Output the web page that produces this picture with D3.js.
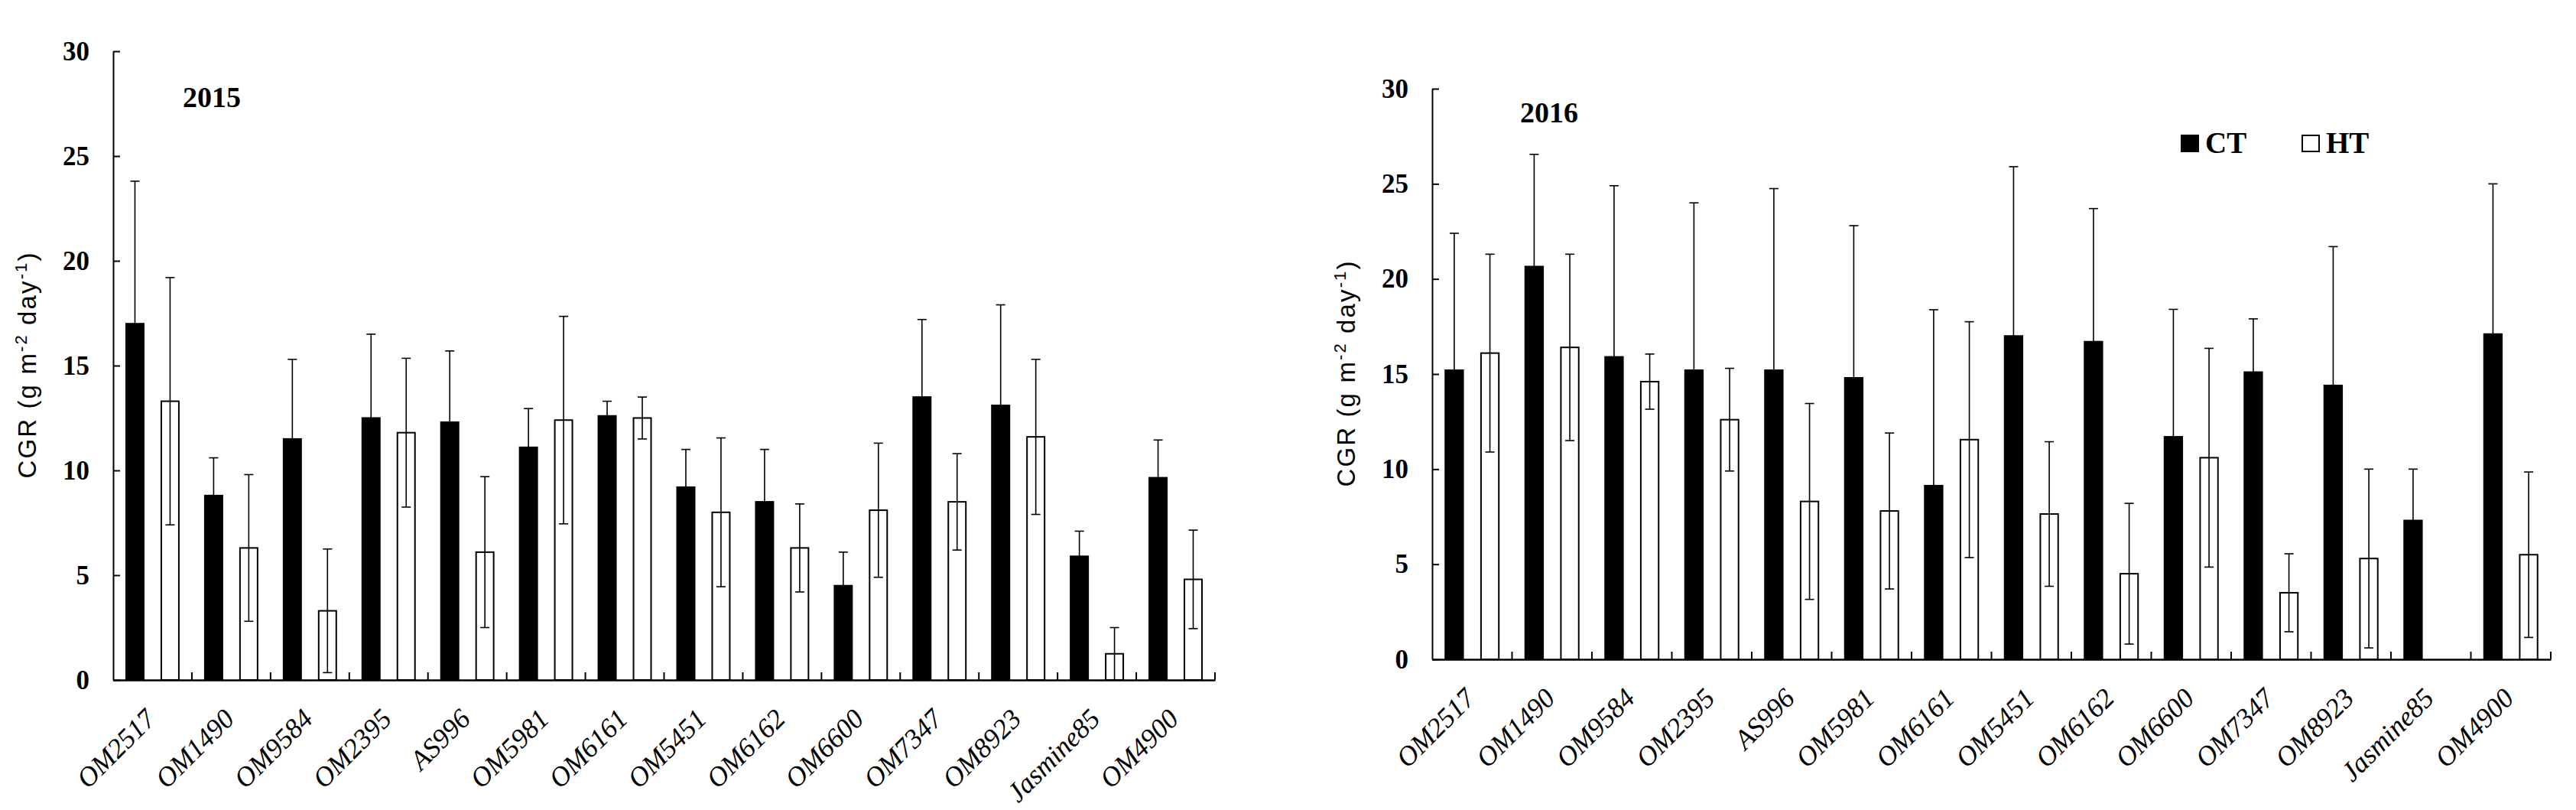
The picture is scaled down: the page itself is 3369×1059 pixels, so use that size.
<!DOCTYPE html>
<html>
<head>
<meta charset="utf-8">
<script src="https://cdn.jsdelivr.net/npm/d3@7"></script>
<style>
  body { margin: 0; background: #fff; }
  svg { display: block; }
</style>
</head>
<body>
<svg id="chart" width="3369" height="1059"></svg>
<script>
// cultivars on the x axis (same order in both years)
const categories = ['OM2517', 'OM1490', 'OM9584', 'OM2395', 'AS996', 'OM5981', 'OM6161',
  'OM5451', 'OM6162', 'OM6600', 'OM7347', 'OM8923', 'Jasmine85', 'OM4900']
const series = ['CT', 'HT']
const yTicks = [0, 5, 10, 15, 20, 25, 30]

// 2015 values
const ct2015 = [17.0, 8.8, 11.5, 12.5, 12.3, 11.1, 12.6, 9.2, 8.5, 4.5, 13.5, 13.1, 5.9, 9.65]
const ct2015Err = [6.8, 1.8, 3.8, 4.0, 3.4, 1.85, 0.7, 1.8, 2.5, 1.6, 3.7, 4.8, 1.2, 1.8]
const ht2015 = [13.3, 6.3, 3.3, 11.8, 6.1, 12.4, 12.5, 8.0, 6.3, 8.1, 8.5, 11.6, 1.25, 4.8]
const ht2015Err = [5.9, 3.5, 2.95, 3.55, 3.6, 4.95, 1.0, 3.55, 2.1, 3.2, 2.3, 3.7, 1.25, 2.35]

// 2016 values (Jasmine85 has no HT bar)
const ct2016 = [15.2, 20.65, 15.9, 15.2, 15.2, 14.8, 9.13, 17.0, 16.7, 11.7, 15.1, 14.4, 7.3, 17.1]
const ct2016Err = [7.2, 5.9, 9.0, 8.8, 9.55, 8.0, 9.25, 8.9, 7.0, 6.7, 2.8, 7.3, 2.7, 7.9]
const ht2016 = [16.1, 16.4, 14.6, 12.6, 8.3, 7.8, 11.55, 7.64, 4.5, 10.6, 3.5, 5.3, null, 5.5]
const ht2016Err = [5.2, 4.9, 1.45, 2.7, 5.15, 4.1, 6.2, 3.8, 3.7, 5.75, 2.05, 4.7, null, 4.35]

const serif = "'Liberation Serif', 'Times New Roman', serif"
const sans = "'Liberation Sans', Arial, sans-serif"

const svg = d3.select('#chart')

/**
 * Draws one year's grouped bar chart with error bars
 */
function drawPanel (p) {
  const x = d3.scaleBand().domain(categories).range([p.left, p.right])
  const x1 = d3.scaleBand().domain(series).range([0, x.bandwidth()])
    .paddingInner(0.5).paddingOuter(0.37)
  const y = d3.scaleLinear().domain([0, 30]).range([p.bottom, p.top])

  const g = svg.append('g')

  const rows = categories.map(function (c, i) {
    return [
      { cat: c, s: 'CT', v: p.ct[i], e: p.ctErr[i] },
      { cat: c, s: 'HT', v: p.ht[i], e: p.htErr[i] }
    ]
  }).flat().filter(function (d) { return d.v !== null })

  // bars
  g.selectAll('rect.bar')
    .data(rows)
    .enter().append('rect')
    .attr('class', 'bar')
    .attr('x', function (d) { return x(d.cat) + x1(d.s) })
    .attr('y', function (d) { return y(d.v) })
    .attr('width', x1.bandwidth())
    .attr('height', function (d) { return y(0) - y(d.v) })
    .attr('fill', function (d) { return d.s === 'CT' ? '#000' : '#fff' })
    .attr('stroke', '#000')
    .attr('stroke-width', 2)

  // error bars
  const eb = g.selectAll('g.err')
    .data(rows)
    .enter().append('g')
    .attr('class', 'err')
    .attr('stroke', '#000')
    .attr('stroke-width', 1.6)
  const cx = function (d) { return x(d.cat) + x1(d.s) + x1.bandwidth() / 2 }
  eb.append('line')
    .attr('x1', cx).attr('x2', cx)
    .attr('y1', function (d) { return y(Math.max(0, d.v - d.e)) })
    .attr('y2', function (d) { return y(d.v + d.e) })
  eb.append('line')
    .attr('x1', function (d) { return cx(d) - 6 }).attr('x2', function (d) { return cx(d) + 6 })
    .attr('y1', function (d) { return y(d.v + d.e) }).attr('y2', function (d) { return y(d.v + d.e) })
  eb.filter(function (d) { return d.s === 'HT' }).append('line')
    .attr('x1', function (d) { return cx(d) - 6 }).attr('x2', function (d) { return cx(d) + 6 })
    .attr('y1', function (d) { return y(Math.max(0, d.v - d.e)) })
    .attr('y2', function (d) { return y(Math.max(0, d.v - d.e)) })

  // x axis with rotated italic labels
  const xAxis = g.append('g')
    .attr('transform', 'translate(0,' + p.bottom + ')')
    .call(d3.axisBottom(x).tickSize(0).tickSizeOuter(0))
  xAxis.select('.domain').attr('stroke-width', 2.5)
  xAxis.selectAll('text')
    .attr('y', 0).attr('dy', 0)
    .attr('text-anchor', 'end')
    .attr('transform', 'translate(6,53) rotate(-45)')
    .attr('font-family', serif)
    .attr('font-style', 'italic')
    .attr('font-size', 36)
    .attr('fill', '#000')

  // boundary ticks between groups, pointing up
  g.selectAll('line.bt')
    .data(categories)
    .enter().append('line')
    .attr('class', 'bt')
    .attr('x1', function (c) { return x(c) + x.bandwidth() })
    .attr('x2', function (c) { return x(c) + x.bandwidth() })
    .attr('y1', p.bottom)
    .attr('y2', p.bottom - 10)
    .attr('stroke', '#000')
    .attr('stroke-width', 2)

  // y axis, ticks pointing inside
  const yAxis = g.append('g')
    .attr('transform', 'translate(' + p.left + ',0)')
    .call(d3.axisLeft(y).tickValues(yTicks).tickSizeInner(-9).tickSizeOuter(0).tickPadding(31))
  yAxis.select('.domain').attr('stroke-width', 2)
  yAxis.selectAll('.tick line').attr('stroke-width', 2)
  yAxis.selectAll('text')
    .attr('font-family', serif)
    .attr('font-weight', 'bold')
    .attr('font-size', 35)
    .attr('fill', '#000')

  // y axis title
  const yl = g.append('text')
    .attr('transform', 'translate(' + (p.left - 101) + ',' + ((p.top + p.bottom) / 2) + ') rotate(-90)')
    .attr('text-anchor', 'middle')
    .attr('font-family', sans)
    .attr('font-size', 33)
    .attr('textLength', 295)
    .attr('lengthAdjust', 'spacing')
  yl.append('tspan').text('CGR (g m')
  yl.append('tspan').attr('dy', -12).attr('font-size', 22).text('-2')
  yl.append('tspan').attr('dy', 12).text(' day')
  yl.append('tspan').attr('dy', -12).attr('font-size', 22).text('-1')
  yl.append('tspan').attr('dy', 12).text(')')

  // year label
  g.append('text')
    .attr('x', p.titleX)
    .attr('y', p.titleY)
    .attr('font-family', serif)
    .attr('font-weight', 'bold')
    .attr('font-size', 38)
    .text(p.title)

  return g
}

drawPanel({
  left: 148, right: 1589, top: 67, bottom: 889,
  title: '2015', titleX: 239, titleY: 140,
  ct: ct2015, ctErr: ct2015Err, ht: ht2015, htErr: ht2015Err
})

const right = drawPanel({
  left: 1873, right: 3336, top: 116, bottom: 862,
  title: '2016', titleX: 1988, titleY: 160,
  ct: ct2016, ctErr: ct2016Err, ht: ht2016, htErr: ht2016Err
})

// legend
const legendX = [2853, 3011]
const leg = right.selectAll('g.leg')
  .data(series)
  .enter().append('g')
  .attr('class', 'leg')
  .attr('transform', function (d, i) { return 'translate(' + legendX[i] + ',177)' })
leg.append('rect')
  .attr('width', 22).attr('height', 21)
  .attr('fill', function (d) { return d === 'CT' ? '#000' : '#fff' })
  .attr('stroke', '#000').attr('stroke-width', 2)
leg.append('text')
  .attr('x', 31).attr('y', 23)
  .attr('font-family', serif)
  .attr('font-weight', 'bold')
  .attr('font-size', 39)
  .text(function (d) { return d })
</script>
</body>
</html>
